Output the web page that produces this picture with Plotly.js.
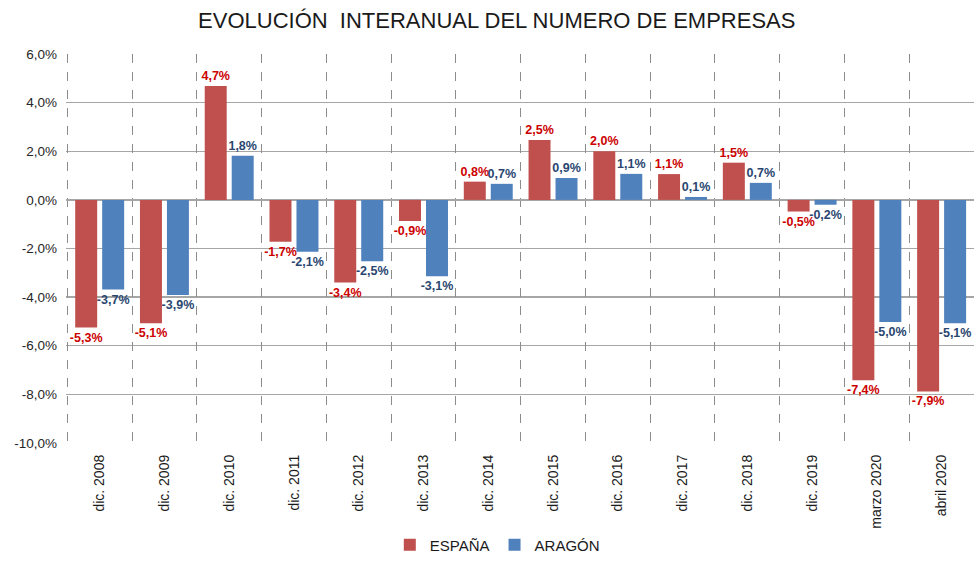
<!DOCTYPE html>
<html>
<head>
<meta charset="utf-8">
<script src="https://cdn.plot.ly/plotly-3.0.1.min.js"></script>
<style>
html,body{margin:0;padding:0;background:#fff;}
#chart{width:974px;height:562px;}
</style>
</head>
<body>
<div id="chart"></div>
<script>
var categories = ["dic. 2008","dic. 2009","dic. 2010","dic. 2011","dic. 2012","dic. 2013","dic. 2014","dic. 2015","dic. 2016","dic. 2017","dic. 2018","dic. 2019","marzo 2020","abril 2020"];
var espana = [-5.25, -5.07, 4.68, -1.72, -3.40, -0.87, 0.75, 2.46, 2.0, 1.06, 1.53, -0.48, -7.42, -7.88];
var aragon = [-3.69, -3.91, 1.82, -2.13, -2.52, -3.14, 0.66, 0.90, 1.07, 0.12, 0.70, -0.20, -5.02, -5.07];
var yTicks = [-10, -8, -6, -4, -2, 0, 2, 4, 6];
var yTickText = ["-10,0%","-8,0%","-6,0%","-4,0%","-2,0%","0,0%","2,0%","4,0%","6,0%"];

var font = "Liberation Sans, Arial, sans-serif";
var xRange = [-0.52, 13.5];

var traces = [
  {
    type: "bar", name: "ESPAÑA", x: categories, y: espana,
    marker: {color: "#C0504D"},
    texttemplate: "%{y:.1f}%", textposition: "outside",
    textfont: {family: font, size: 12.5, color: "#CC0000", weight: "bold"},
    constraintext: "none", cliponaxis: false, hoverinfo: "skip"
  },
  {
    type: "bar", name: "ARAGÓN", x: categories, y: aragon,
    marker: {color: "#4F81BD"},
    texttemplate: "%{y:.1f}%", textposition: "outside",
    textfont: {family: font, size: 12.5, color: "#2A4670", weight: "bold"},
    constraintext: "none", cliponaxis: false, hoverinfo: "skip"
  },
  {
    // helper trace so the boundary-grid axis (x2) gets drawn
    type: "scatter", mode: "none", x: [0], y: [0], xaxis: "x2", yaxis: "y",
    showlegend: false, hoverinfo: "skip"
  }
];

var layout = {
  width: 974, height: 562,
  margin: {l: 66, r: 0, t: 54, b: 111},
  paper_bgcolor: "#fff", plot_bgcolor: "#fff",
  separators: ",.",
  font: {family: font, color: "#404040", size: 13},
  title: {
    text: "EVOLUCIÓN  INTERANUAL DEL NUMERO DE EMPRESAS",
    font: {family: font, size: 22, color: "#1a1a1a"},
    xref: "container", x: 0.51, xanchor: "center",
    yref: "container", y: 0.963, yanchor: "middle"
  },
  barmode: "group",
  bargap: 0.167,
  bargroupgap: 0.185,
  showlegend: true,
  legend: {
    orientation: "h", x: 0.475, xanchor: "center", y: -0.262, yanchor: "middle",
    font: {family: font, size: 15, color: "#1a1a1a"},
    itemwidth: 30, itemgap: 0, traceorder: "normal"
  },
  xaxis: {
    type: "category", range: xRange, tickangle: -90, showgrid: false, zeroline: false,
    showline: false, ticks: "", ticklabelstandoff: 8,
    tickfont: {family: font, size: 14, color: "#1a1a1a"},
    automargin: false
  },
  xaxis2: {
    overlaying: "x", type: "linear", range: xRange, fixedrange: true,
    tickmode: "linear", tick0: -0.5, dtick: 1, showgrid: true, gridcolor: "#8c8c8c", griddash: "dash",
    gridwidth: 1, showticklabels: false, zeroline: false, showline: false, ticks: ""
  },
  yaxis: {
    range: [-10, 6], tickvals: yTicks, ticktext: yTickText,
    showgrid: true, gridcolor: "#A6A6A6", gridwidth: 1.3,
    zeroline: true, zerolinecolor: "#A6A6A6", zerolinewidth: 1.3,
    showline: false, ticks: "", ticklabelstandoff: 8,
    tickfont: {family: font, size: 13.5, color: "#262626"},
    automargin: false
  }
};

Plotly.newPlot("chart", traces, layout, {displayModeBar: false, staticPlot: true});
</script>
</body>
</html>
